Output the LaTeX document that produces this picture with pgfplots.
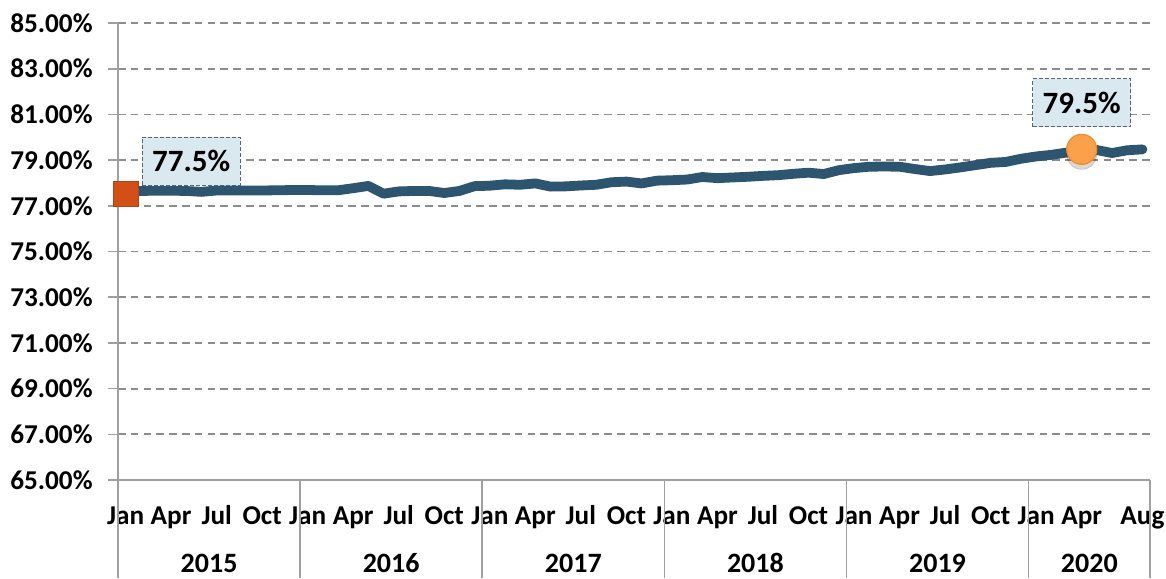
\documentclass[border=0pt]{standalone}
\usepackage{fontspec}
\setmainfont{Carlito}
\usepackage{pgfplots}
\pgfplotsset{compat=1.18}
\usepackage{pgfplotstable}
\definecolor{linecol}{HTML}{2D5570}
\definecolor{gridgray}{HTML}{8C8C8C}
\definecolor{axisgray}{HTML}{A0A0A0}
\definecolor{sqcol}{HTML}{D24F17}
\definecolor{circfill}{HTML}{FBA04B}
\definecolor{circdraw}{HTML}{F08C28}
\definecolor{labfill}{HTML}{DAE8F0}
\definecolor{labdraw}{HTML}{56647A}

\pgfplotstableread{
x y
0 77.55
1 77.65
2 77.66
3 77.66
4 77.65
5 77.61
6 77.67
7 77.67
8 77.67
9 77.67
10 77.68
11 77.69
12 77.69
13 77.68
14 77.68
15 77.77
16 77.87
17 77.53
18 77.63
19 77.65
20 77.65
21 77.56
22 77.65
23 77.86
24 77.88
25 77.94
26 77.92
27 77.98
28 77.84
29 77.85
30 77.89
31 77.92
32 78.03
33 78.06
34 77.98
35 78.10
36 78.12
37 78.15
38 78.26
39 78.21
40 78.24
41 78.27
42 78.31
43 78.34
44 78.40
45 78.45
46 78.39
47 78.56
48 78.65
49 78.71
50 78.72
51 78.71
52 78.61
53 78.52
54 78.59
55 78.68
56 78.78
57 78.88
58 78.92
59 79.06
60 79.16
61 79.23
62 79.33
63 79.47
64 79.44
65 79.31
66 79.43
67 79.47
}\datatable

\begin{document}
\begin{tikzpicture}
\begin{axis}[
  at={(0,0)}, anchor=south west,
  scale only axis, width=516pt, height=228.5pt,
  xmin=-0.5, xmax=67.5, ymin=65, ymax=85,
  ytick={65,67,69,71,73,75,77,79,81,83,85},
  xtick={0,3,6,9,12,15,18,21,24,27,30,33,36,39,42,45,48,51,54,57,60,63,67},
  xticklabels={Jan,Apr,Jul,Oct,Jan,Apr,Jul,Oct,Jan,Apr,Jul,Oct,Jan,Apr,Jul,Oct,Jan,Apr,Jul,Oct,Jan,Apr,Aug},
  axis x line*=bottom, axis y line*=left,
  axis line style={draw=axisgray, line width=0.8pt, -},
  ymajorgrids,
  grid style={draw=gridgray, line width=0.9pt, dash pattern=on 3.8pt off 2.6pt},
  tick align=outside, major tick length=5pt,
  ytick style={draw=axisgray, line width=0.8pt},
  xtick style={draw=none},
  /pgf/number format/assume math mode=true,
  yticklabel={\pgfmathprintnumber[fixed,fixed zerofill,precision=2]{\tick}\%},
  yticklabel style={font=\fontsize{13.6}{15}\selectfont\bfseries, anchor=east, inner sep=0pt, xshift=-7.5pt},
  xticklabel style={font=\fontsize{13.6}{15}\selectfont\bfseries, anchor=base, inner sep=0pt, yshift=-17pt},
  clip=false,
]
\addplot[linecol, line width=4.9pt, line join=round, line cap=round, mark=none] table[x=x,y=y]{\datatable};

\addplot[only marks, mark=square*, mark size=6.25pt,
  mark options={fill=sqcol, draw=sqcol!85!black, line width=0.3pt},
  nodes near coords={77.5\%},
  every node near coord/.append style={anchor=south west, xshift=8pt, yshift=4pt,
    font=\fontsize{15.5}{18}\selectfont\bfseries, text=black,
    fill=labfill, draw=labdraw, dash pattern=on 2pt off 1pt, line width=0.6pt,
    minimum width=49pt, minimum height=24pt, inner sep=1pt}]
  coordinates {(0,77.52)};

\addplot[only marks, mark=*, mark size=7.5pt,
  mark options={fill=black, draw=none, opacity=0.15, yshift=-2.5pt}]
  coordinates {(63,79.47)};
\addplot[only marks, mark=*, mark size=7.5pt,
  mark options={fill=circfill, draw=circdraw, line width=0.6pt},
  nodes near coords={79.5\%},
  every node near coord/.append style={anchor=south, yshift=11pt,
    font=\fontsize{15.5}{18}\selectfont\bfseries, text=black,
    fill=labfill, draw=labdraw, dash pattern=on 2pt off 1pt, line width=0.6pt,
    minimum width=49pt, minimum height=24pt, inner sep=1pt}]
  coordinates {(63,79.47)};

\foreach \s in {-0.5,11.5,23.5,35.5,47.5,59.5,67.5} {
  \edef\temp{\noexpand\draw[axisgray, line width=0.8pt] (axis cs:\s,65) -- ([yshift=-49pt]axis cs:\s,65);}
  \temp
}
\foreach \xx/\yy in {5.5/2015,17.5/2016,29.5/2017,41.5/2018,53.5/2019,63.5/2020} {
  \edef\temp{\noexpand\node[font=\noexpand\fontsize{14}{16}\noexpand\selectfont\noexpand\bfseries, inner sep=0pt] at ([yshift=-41.5pt]axis cs:\xx,65) {\yy};}
  \temp
}
\end{axis}
\path (-59pt,-49pt) rectangle (524pt,240pt);
\end{tikzpicture}
\end{document}
